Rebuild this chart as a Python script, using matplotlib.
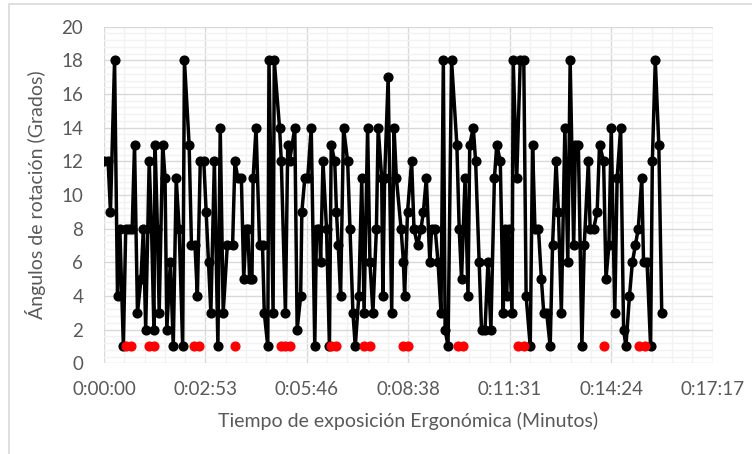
import numpy as np
import matplotlib
matplotlib.use("Agg")
import matplotlib.pyplot as plt
from matplotlib.ticker import MultipleLocator, FuncFormatter
from matplotlib.patches import Rectangle

# tiempo (segundos) y angulo de rotacion (grados)
tiempo = [0, 7, 11, 18, 23, 27, 33, 37, 43, 48, 52, 57, 63, 67, 71, 77, 81, 85, 87, 91,
          94, 100, 104, 107, 113, 118, 123, 128, 134, 137, 145, 149, 155, 159, 164, 170, 174, 178, 182, 188,
          194, 198, 203, 210, 219, 223, 228, 234, 238, 242, 245, 248, 252, 254, 259, 265, 270, 273, 279, 281,
          288, 290, 299, 302, 309, 313, 316, 325, 329, 335, 337, 342, 347, 353, 359, 362, 367, 369, 373, 379,
          384, 387, 393, 396, 399, 403, 408, 415, 419, 424, 428, 434, 439, 443, 449, 453, 458, 464, 467, 473,
          475, 478, 484, 490, 494, 498, 506, 510, 512, 517, 524, 528, 534, 540, 544, 549, 555, 558, 564, 569,
          574, 578, 581, 586, 592, 601, 605, 609, 615, 620, 623, 629, 633, 639, 643, 649, 654, 659, 665, 669,
          675, 680, 683, 686, 689, 695, 697, 703, 709, 715, 719, 726, 730, 734, 740, 745, 749, 754, 760, 764,
          770, 774, 779, 785, 790, 794, 800, 803, 808, 814, 818, 825, 828, 834, 840, 844, 851, 855, 860, 864,
          870, 874, 880, 885, 889, 895, 900, 905, 910, 916, 919, 925, 931, 934, 939, 945, 950]
angulo = [12, 12, 9, 18, 4, 8, 1, 8, 8, 8, 13, 3, 5, 8, 2, 12, 8, 2, 13, 8,
          3, 13, 11, 2, 6, 1, 11, 8, 1, 18, 13, 7, 7, 4, 12, 12, 9, 6, 3, 12,
          1, 14, 3, 7, 7, 12, 11, 11, 5, 8, 8, 5, 5, 11, 14, 7, 7, 3, 1, 18,
          3, 18, 14, 12, 3, 13, 12, 14, 2, 4, 9, 11, 11, 14, 1, 8, 8, 6, 12, 8,
          1, 13, 12, 9, 7, 4, 14, 12, 8, 3, 1, 4, 11, 3, 14, 6, 3, 8, 14, 11,
          4, 11, 17, 3, 14, 11, 8, 6, 4, 9, 12, 8, 7, 8, 9, 11, 6, 8, 8, 6,
          3, 18, 2, 1, 18, 13, 8, 5, 11, 4, 13, 14, 12, 6, 2, 2, 6, 2, 11, 13,
          12, 3, 8, 4, 8, 3, 18, 11, 18, 18, 4, 1, 13, 8, 8, 5, 3, 3, 1, 7,
          12, 9, 3, 14, 6, 18, 7, 13, 13, 1, 7, 12, 8, 8, 9, 13, 12, 5, 7, 14,
          3, 11, 14, 2, 1, 4, 6, 7, 8, 11, 6, 6, 1, 12, 18, 13, 3]

# puntos rojos (serie en 1)
tiempo_rojo = [37, 46, 77, 85, 153, 161, 223, 302, 309, 316, 386, 396, 443, 453,
               509, 518, 603, 612, 706, 716, 851, 912, 921]
valor_rojo = [1] * len(tiempo_rojo)

gris = "#595959"
plt.rcParams['font.family'] = ['Lato', 'DejaVu Sans']

fig = plt.figure(figsize=(7.52, 4.54), dpi=100)
# borde del area del grafico
fig.patches.append(Rectangle((9 / 752, -0.05), 1.1, 1 - 4 / 454 + 0.05, transform=fig.transFigure,
                             fill=False, edgecolor="#d9d9d9", linewidth=1.2))
ax = fig.add_axes([104 / 752, 1 - 363.3 / 454, (712.7 - 104) / 752, (363.3 - 26.7) / 454])

ax.plot(tiempo, angulo, color="black", linewidth=2.5, marker="o", markersize=6.3,
        solid_joinstyle="round", zorder=3)
ax.plot(tiempo_rojo, valor_rojo, linestyle="none", marker="o", markersize=6.3,
        color="#ff0000", zorder=4)

ax.set_xlim(0, 1036.8)
ax.set_ylim(0, 20)
ax.xaxis.set_major_locator(MultipleLocator(172.8))
ax.xaxis.set_minor_locator(MultipleLocator(172.8 / 5))
ax.yaxis.set_major_locator(MultipleLocator(2))
ax.yaxis.set_minor_locator(MultipleLocator(0.4))


def hms(x, pos):
    s = int(round(x))
    return "%d:%02d:%02d" % (s // 3600, (s % 3600) // 60, s % 60)


ax.xaxis.set_major_formatter(FuncFormatter(hms))
ax.grid(which="major", color="#d9d9d9", linewidth=1)
ax.grid(which="minor", color="#f2f2f2", linewidth=1)
ax.set_axisbelow(True)
for s in ax.spines.values():
    s.set_visible(False)
ax.tick_params(which="both", length=0, labelcolor=gris, labelsize=13.5)
ax.tick_params(axis="x", pad=13)
ax.tick_params(axis="y", pad=15)

ax.set_xlabel("Tiempo de exposición Ergonómica (Minutos)", color=gris, fontsize=14, labelpad=10)
ax.set_ylabel("Ángulos de rotación (Grados)", color=gris, fontsize=14, labelpad=11)

fig.savefig("out.png", dpi=100)
